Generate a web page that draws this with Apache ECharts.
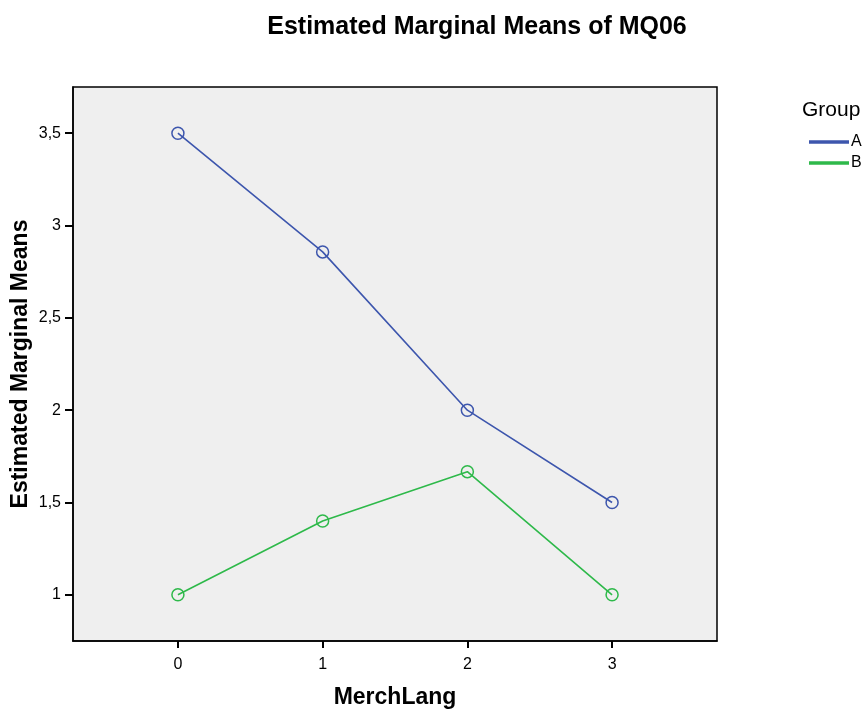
<!DOCTYPE html>
<html>
<head>
<meta charset="utf-8">
<script src="https://cdn.jsdelivr.net/npm/echarts@6/dist/echarts.min.js"></script>
<style>
  html, body { margin: 0; padding: 0; background: #fff; }
  #chart { width: 867px; height: 710px; }
</style>
</head>
<body>
<div id="chart"></div>
<script>
// MerchLang levels on the x axis
const merchLang = [0, 1, 2, 3];
// Estimated marginal means per group
const groupA = [3.5, 2.857, 2.0, 1.5];
const groupB = [1.0, 1.4, 1.667, 1.0];
// Tick values shown on each axis
const yTicks = [1, 1.5, 2, 2.5, 3, 3.5];
const xTicks = [0, 1, 2, 3];

const blue = '#3d56ad';
const green = '#2eb94a';
const font = 'Liberation Sans, Arial, sans-serif';

function pairs(xs, ys) { return xs.map((x, i) => [x, ys[i]]); }

function lineSeries(name, values, color) {
  return {
    name: name,
    type: 'line',
    data: pairs(merchLang, values),
    symbol: 'circle',
    symbolSize: 12,
    lineStyle: { color: color, width: 1.6 },
    itemStyle: { color: 'rgba(0,0,0,0)', borderColor: color, borderWidth: 1.5 },
    emphasis: { disabled: true },
    z: 3
  };
}

const chart = echarts.init(document.getElementById('chart'));
chart.setOption({
  animation: false,
  backgroundColor: '#ffffff',
  textStyle: { fontFamily: font },
  title: [{
    text: 'Estimated Marginal Means of MQ06',
    left: 472, top: 10, textAlign: 'center',
    textStyle: { fontFamily: font, fontSize: 25, fontWeight: 'bold', color: '#000' }
  }, {
    text: 'Group',
    left: 797, top: 95,
    textStyle: { fontFamily: font, fontSize: 21, fontWeight: 'normal', color: '#000' }
  }],
  legend: {
    orient: 'vertical',
    left: 804, top: 129,
    itemWidth: 38, itemHeight: 2, itemGap: 5,
    icon: 'path://M0,0 L38,0 L38,1.5 L0,1.5 Z',
    textStyle: { fontFamily: font, fontSize: 16, color: '#000', padding: [0, 0, 0, -2] },
    data: [
      { name: 'A', itemStyle: { color: blue } },
      { name: 'B', itemStyle: { color: green } }
    ]
  },
  grid: {
    left: 73, top: 87, width: 644, height: 554,
    outerBoundsMode: 'none',
    containLabel: false,
    show: true, backgroundColor: '#efefef', borderColor: '#000', borderWidth: 1.5
  },
  xAxis: {
    type: 'value',
    min: -0.725, max: 3.725,
    name: 'MerchLang', nameLocation: 'middle', nameGap: 45, nameMoveOverlap: false,
    nameTextStyle: { fontFamily: font, fontSize: 23, fontWeight: 'bold', color: '#000' },
    axisLine: { show: true, onZero: false, lineStyle: { color: '#000', width: 1.5 } },
    axisTick: { show: true, length: 7, customValues: xTicks, lineStyle: { color: '#000', width: 2 } },
    axisLabel: { customValues: xTicks, fontFamily: font, fontSize: 16, color: '#000', margin: 16 },
    splitLine: { show: false }
  },
  yAxis: {
    type: 'value',
    min: 0.75, max: 3.75,
    name: 'Estimated Marginal Means', nameLocation: 'middle', nameGap: 41, nameMoveOverlap: false,
    nameTextStyle: { fontFamily: font, fontSize: 23, fontWeight: 'bold', color: '#000' },
    axisLine: { show: true, onZero: false, lineStyle: { color: '#000', width: 1.5 } },
    axisTick: { show: true, length: 8, customValues: yTicks, lineStyle: { color: '#000', width: 2 } },
    axisLabel: {
      customValues: yTicks, fontFamily: font, fontSize: 16, color: '#000', margin: 12,
      formatter: v => String(v).replace('.', ',')
    },
    splitLine: { show: false }
  },
  series: [
    lineSeries('A', groupA, blue),
    lineSeries('B', groupB, green)
  ]
});
</script>
</body>
</html>
